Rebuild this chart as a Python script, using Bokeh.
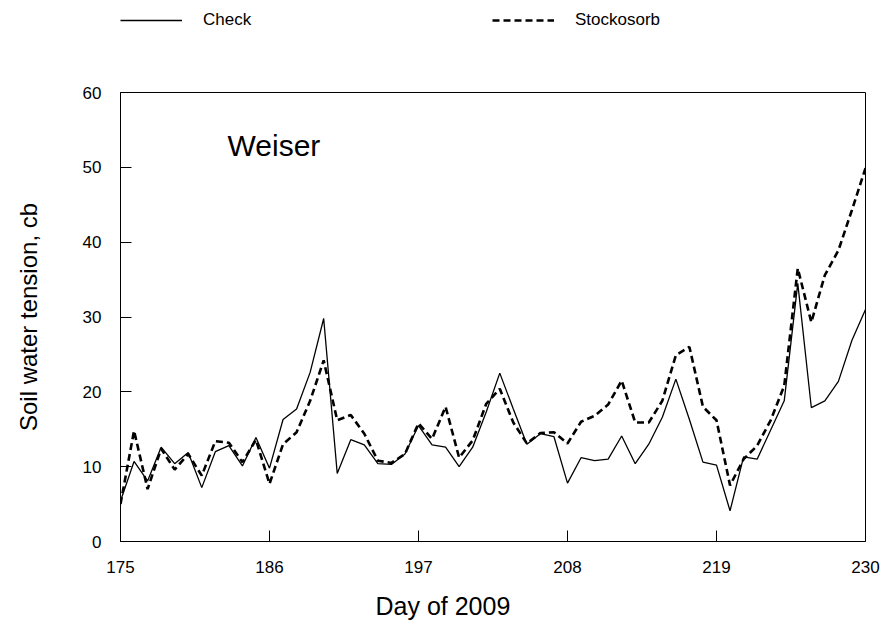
from bokeh.plotting import figure
from bokeh.models import Range1d, FixedTicker, Legend, LegendItem, Label, Title
from bokeh.layouts import column
from bokeh.embed import file_html
from bokeh.resources import INLINE

days = list(range(175, 231))
check = [5.4, 10.7, 8.1, 12.6, 10.4, 11.9, 7.2, 12.0, 12.8, 10.1,
         13.9, 9.8, 16.3, 17.7, 22.6, 29.8, 9.1, 13.6, 12.9, 10.4,
         10.3, 11.7, 15.5, 12.9, 12.6, 10.0, 12.6, 17.3, 22.5, 17.7,
         13.0, 14.4, 14.0, 7.8, 11.2, 10.8, 11.0, 14.1, 10.4, 13.0,
         16.6, 21.7, 16.3, 10.6, 10.2, 4.1, 11.3, 11.0, 14.9, 18.8,
         34.5, 17.9, 18.8, 21.4, 26.9, 31.0]
stockosorb = [5.0, 14.8, 7.0, 12.4, 9.6, 11.7, 8.8, 13.4, 13.2, 10.6,
              13.6, 7.7, 13.0, 14.6, 18.8, 24.2, 16.2, 16.9, 14.4, 10.8,
              10.5, 11.7, 15.8, 13.7, 18.0, 11.2, 13.5, 18.4, 20.4, 15.9,
              13.1, 14.5, 14.6, 13.1, 16.0, 16.8, 18.3, 21.5, 15.9, 15.9,
              18.8, 24.9, 26.0, 18.0, 16.2, 7.5, 11.0, 12.8, 16.2, 20.8,
              36.5, 29.3, 35.6, 38.9, 44.3, 49.9]
x_ticks = [175, 186, 197, 208, 219, 230]
y_ticks = [0, 10, 20, 30, 40, 50, 60]
series_names = ["Check", "Stockosorb"]

FONT = "Liberation Sans"
SOLID = dict(line_color="black", line_width=1.3)
DASHED = dict(line_color="black", line_width=2.6, line_dash="7 4")

# ---- legend strip (top) ----
leg = figure(width=886, height=48, output_backend="svg", toolbar_location=None,
             x_range=Range1d(0, 886), y_range=Range1d(0, 48),
             min_border=0, min_border_left=0, min_border_right=0,
             min_border_top=0, min_border_bottom=0)
leg.axis.visible = False
leg.xgrid.visible = False
leg.ygrid.visible = False
leg.outline_line_color = None
# single-point placeholder renderers (a one-point line draws nothing) that carry the legend styles
lr1 = leg.line(days[:1], check[:1], **SOLID)
lr2 = leg.line(days[:1], stockosorb[:1], **DASHED)

def make_legend(item, loc):
    return Legend(items=[item], location=loc, orientation="horizontal",
                  glyph_width=62, glyph_height=20, label_height=20,
                  label_standoff=21, padding=0, margin=0, spacing=0,
                  label_text_font=FONT,
                  label_text_font_size="17px", label_text_color="black",
                  background_fill_alpha=0, border_line_alpha=0)

leg.add_layout(make_legend(LegendItem(label=series_names[0], renderers=[lr1]), (0, 18)))
leg.add_layout(make_legend(LegendItem(label=series_names[1], renderers=[lr2]), (372, 18)))

# ---- main plot ----
p = figure(width=886, height=587, output_backend="svg", toolbar_location=None,
           x_range=Range1d(175, 230), y_range=Range1d(0, 60),
           min_border_left=120, min_border_right=21, min_border_top=44,
           min_border_bottom=94)
p.xgrid.visible = False
p.ygrid.visible = False
p.outline_line_color = "black"
p.outline_line_width = 1
p.background_fill_color = "white"
p.border_fill_color = "white"

p.line(days, check, **SOLID)
p.line(days, stockosorb, **DASHED)

for ax in (p.xaxis[0], p.yaxis[0]):
    ax.axis_line_color = "black"
    ax.major_tick_line_color = "black"
    ax.major_tick_in = 11
    ax.major_tick_out = 0
    ax.minor_tick_line_color = None
    ax.major_label_text_font = FONT
    ax.major_label_text_font_size = "17px"
    ax.major_label_text_color = "black"
    ax.axis_label_text_font = FONT
    ax.axis_label_text_font_size = "24px"
    ax.axis_label_text_font_style = "normal"
    ax.axis_label_text_color = "black"

p.xaxis.ticker = FixedTicker(ticks=x_ticks)
p.yaxis.ticker = FixedTicker(ticks=y_ticks)
p.yaxis.axis_label = "Soil water tension, cb"
p.xaxis.major_label_standoff = 19
p.yaxis.major_label_standoff = 19
p.yaxis.axis_label_standoff = 38

p.add_layout(Title(text="Day of 2009", align="left", offset=255,
                   text_font=FONT, text_font_size="25px",
                   text_font_style="normal", text_color="black",
                   standoff=28), "below")

p.add_layout(Label(x=182.9, y=52.9, text="Weiser", text_font=FONT,
                   text_font_size="30px", text_color="black",
                   text_baseline="alphabetic"))

layout = column(leg, p, spacing=0)
open("out.html", "w").write(file_html(layout, INLINE))
